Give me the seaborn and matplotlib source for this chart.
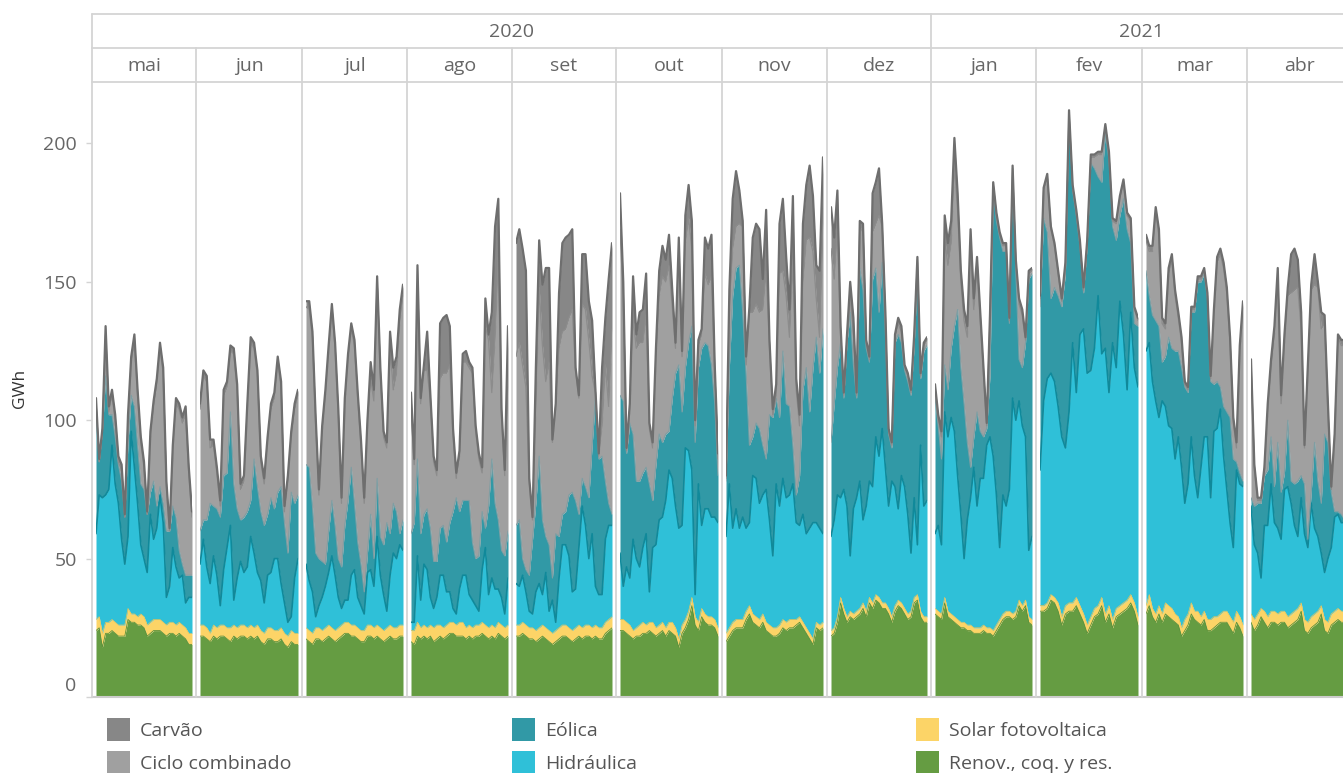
import numpy as np
import matplotlib
matplotlib.use("Agg")
import matplotlib.pyplot as plt
import seaborn as sns
from matplotlib.patches import Rectangle
from matplotlib.lines import Line2D
from matplotlib.transforms import ScaledTranslation

# ---------------- data (GWh per day) ----------------
years = ["2020", "2021"]
months = ["mai", "jun", "jul", "ago", "set", "out", "nov", "dez",
          "jan", "fev", "mar", "abr"]
month_days = [31, 30, 31, 31, 30, 31, 30, 31, 31, 28, 31, 30]
y_ticks = [0, 50, 100, 150, 200]
legend_labels = ["Carvão", "Ciclo combinado", "Eólica", "Hidráulica",
                 "Solar fotovoltaica", "Renov., coq. y res."]

renov = [
    [24,25,18,23,23,24,23,22,22,22,28,27,27,26,26,25,22,23,24,24,24,23,22,23,23,22,23,22,21,19,19],
    [22,22,21,20,22,21,22,22,21,20,22,21,22,22,21,22,21,22,20,19,21,21,20,20,21,19,18,20,19,19],
    [21,20,19,21,21,20,21,22,21,20,21,22,23,23,22,22,21,20,20,22,22,21,22,21,20,21,22,21,21,22,22],
    [20,19,22,21,22,21,22,20,21,22,21,22,23,23,22,22,22,21,22,21,22,22,23,22,21,22,21,23,22,21,22],
    [22,22,23,22,21,21,20,21,22,21,20,19,20,21,22,22,21,20,21,22,21,22,22,21,22,21,21,23,24,25],
    [24,24,23,22,21,22,22,23,23,24,23,22,23,24,22,24,23,22,18,23,25,28,33,26,24,29,27,26,26,25,22],
    [20,22,24,25,25,25,28,30,27,26,25,27,24,23,22,22,23,25,24,25,25,26,27,25,23,21,19,25,24,25],
    [22,23,27,34,30,27,29,28,29,30,32,29,34,32,35,34,32,32,30,27,31,33,32,30,28,29,34,35,29,27,27],
    [30,29,28,34,29,28,27,26,25,25,24,24,23,23,23,24,23,23,22,24,26,28,29,29,28,29,33,31,33,27,26],
    [31,31,32,35,34,31,26,30,31,31,33,30,27,23,26,29,30,33,27,30,25,29,30,31,32,34,31,26],
    [30,33,29,27,30,27,30,29,28,27,26,22,24,26,30,28,27,26,28,24,24,25,26,27,27,27,25,23,27,25,22],
    [27,24,26,29,27,25,27,27,26,27,27,25,26,27,28,31,24,23,25,26,27,30,24,23,26,27,28,27,27,27],
]
solar = [
    [4,4,5,4,4,4,4,4,4,4,4,3,3,3,4,4,4,4,4,4,4,4,4,4,4,4,4,4,4,4,4],
    [4,4,4,3,4,4,4,4,4,5,4,4,4,4,4,4,4,4,4,4,4,4,4,4,4,4,4,4,4,4],
    [4,4,4,4,4,4,4,4,4,4,4,4,4,4,4,4,4,4,4,4,4,4,4,4,4,4,4,4,4,4,4],
    [4,5,5,4,4,4,4,5,5,4,4,4,4,4,4,5,5,4,4,4,4,4,4,4,4,4,4,4,4,4,4],
    [4,4,4,4,4,4,4,4,4,4,4,4,4,4,4,4,4,4,4,4,4,4,4,4,4,4,4,4,4,4],
    [4,4,4,4,3,3,4,4,3,3,4,3,3,3,3,3,4,3,3,3,3,3,3,3,3,3,3,3,3,3,3],
    [3,3,3,3,3,3,3,3,3,3,3,3,3,3,3,3,3,3,3,3,3,2,2,2,2,2,2,2,2,2],
    [2,2,2,2,2,2,2,2,2,2,2,2,2,2,2,2,2,2,2,2,2,2,2,2,2,2,2,2,2,2,2],
    [2,2,2,2,2,2,2,2,2,2,2,2,2,2,2,2,2,2,2,2,2,2,2,2,2,2,2,2,2,2,2],
    [2,2,2,2,2,3,3,3,3,3,3,3,3,3,3,3,3,3,3,3,3,3,3,3,3,3,3,3],
    [3,4,3,3,3,3,4,4,4,3,3,3,4,4,4,3,4,3,3,4,4,4,3,3,4,4,4,4,4,4,4],
    [3,4,4,3,4,4,4,4,4,4,4,4,4,4,4,3,4,4,4,4,4,3,4,4,4,4,4,4,4,4],
]
hydro = [
    [31,44,49,46,48,63,50,44,31,22,26,66,53,41,25,21,19,39,29,33,45,36,10,13,27,21,16,18,9,13,13],
    [22,31,22,18,25,19,7,20,29,37,9,18,23,19,22,32,27,19,18,11,19,20,26,26,16,11,5,5,20,27],
    [23,18,15,4,8,12,15,19,26,20,11,6,8,8,18,20,11,9,6,19,20,15,32,19,13,6,18,27,25,29,27],
    [3,3,24,10,22,21,10,7,10,18,19,12,11,5,4,12,17,19,11,10,7,5,19,28,12,17,14,12,10,5,17],
    [15,14,17,12,6,5,14,16,11,20,7,12,3,18,29,29,26,14,14,28,44,36,24,34,14,12,12,30,34,33],
    [24,12,20,17,33,25,21,27,33,11,27,30,38,38,46,55,52,44,40,36,62,58,46,8,50,30,38,39,36,37,38],
    [35,52,34,40,33,37,30,30,50,50,42,43,48,38,26,52,43,51,45,45,49,35,33,39,34,38,42,36,35,32],
    [34,39,44,36,43,40,20,38,41,46,30,38,42,42,57,51,63,49,37,49,43,33,46,44,36,21,36,18,60,40,42],
    [27,31,25,67,63,71,67,52,39,23,38,46,58,44,54,53,66,69,63,47,26,43,38,44,78,69,72,65,59,24,30],
    [49,74,81,80,78,71,65,57,69,94,74,98,103,91,89,94,112,88,96,77,100,87,110,97,76,102,85,83],
    [92,91,82,77,68,77,71,65,65,56,65,58,42,47,60,49,41,54,63,66,44,67,68,74,56,44,34,27,51,48,50],
    [39,27,22,11,31,33,46,32,31,26,44,47,40,31,26,38,31,27,41,31,27,19,17,23,24,34,34,32,32,32],
]
wind = [
    [45,12,24,43,27,11,17,14,21,17,34,13,22,21,22,25,21,8,21,8,3,7,24,20,15,18,10,4,10,8,8],
    [12,7,17,29,18,24,32,34,27,41,42,25,15,20,20,13,34,31,25,28,22,27,18,24,35,29,25,45,27,23],
    [36,41,31,23,17,13,8,15,20,18,14,15,27,36,39,24,20,15,8,7,20,10,21,14,18,32,15,18,17,4,11],
    [32,36,35,24,18,22,25,17,13,17,18,18,25,35,42,28,27,27,34,21,17,20,21,7,32,43,31,25,17,21,17],
    [21,24,6,8,13,27,32,46,27,13,24,8,32,15,11,12,22,36,32,12,10,14,22,32,68,49,50,21,8,4],
    [57,67,41,56,38,28,31,27,24,39,17,29,31,27,24,14,29,48,59,41,29,39,52,55,42,64,60,59,55,41,17],
    [20,42,84,87,95,74,56,28,14,20,27,18,11,38,50,31,32,46,34,32,14,10,18,45,60,42,56,67,56,74],
    [34,42,46,56,33,59,88,52,36,77,83,57,43,75,61,52,60,48,26,12,52,63,48,42,48,57,55,98,24,56,56],
    [49,36,31,17,17,25,38,60,53,56,28,11,11,34,17,15,6,22,96,99,112,88,92,60,82,54,15,21,34,98,95],
    [59,66,53,27,34,40,47,63,107,55,64,32,13,46,75,65,43,62,78,84,42,46,31,49,58,25,16,22],
    [29,17,24,29,33,14,18,32,29,39,31,36,42,33,45,59,78,67,59,50,42,17,17,8,18,28,38,32,3,4,2],
    [3,14,18,27,18,20,17,13,31,17,6,24,8,15,20,8,18,3,4,31,20,18,50,42,20,2,1,3,1,1],
]
ciclo = [
    [2,0,0,15,1,7,6,1,4,0,8,12,23,18,15,8,0,20,27,44,50,47,16,0,20,41,51,51,58,37,21],
    [44,52,50,20,22,13,4,29,31,22,47,43,11,13,37,57,40,40,18,15,26,32,40,47,36,4,26,20,34,36],
    [57,57,61,47,23,47,61,65,69,64,52,23,44,51,50,57,52,43,32,46,49,57,71,59,39,27,68,41,50,77,81],
    [45,21,62,47,52,50,46,36,31,54,55,61,57,28,7,20,50,50,48,61,46,35,14,73,60,24,60,95,49,29,52],
    [61,64,70,66,34,7,35,61,63,56,66,49,46,68,66,66,64,66,47,42,63,64,57,25,2,1,11,42,35,67],
    [60,38,1,5,42,48,50,47,55,20,19,38,50,60,55,60,33,9,40,20,45,45,28,6,8,5,25,22,32,12,6],
    [1,20,17,15,15,31,3,48,45,43,42,49,68,25,1,1,52,29,39,25,67,38,18,39,46,63,42,14,13,38],
    [70,45,50,3,1,1,6,11,1,15,21,2,1,17,16,35,13,6,1,1,2,4,4,1,2,1,3,5,1,2,2],
    [3,2,8,46,45,38,58,36,31,30,38,80,46,52,40,23,1,20,2,2,1,2,2,1,1,3,20,19,1,2,1],
    [3,10,20,25,15,8,2,3,1,1,1,1,1,1,2,4,8,10,2,2,2,6,6,6,5,8,5,2],
    [11,16,23,39,33,14,10,23,32,20,12,9,1,1,1,1,1,1,1,1,1,25,43,48,50,43,27,13,5,44,63],
    [49,14,1,1,2,21,25,55,60,32,47,45,68,70,70,53,13,60,73,57,70,63,40,11,1,27,63,61,63,63],
]
carvao = [
    [2,1,1,3,2,2,2,2,2,1,2,2,3,2,2,2,1,2,2,2,2,2,2,1,2,2,2,2,3,2,2],
    [2,2,2,3,2,2,2,2,2,2,2,2,2,2,2,2,2,2,2,2,2,2,2,2,2,2,2,2,2,2],
    [2,3,2,2,2,2,2,2,2,2,2,2,2,2,2,2,2,2,2,2,6,4,2,2,2,2,5,8,6,4,4],
    [6,2,8,2,2,14,2,2,2,20,20,21,14,2,2,2,3,4,2,2,2,2,2,10,2,29,40,21,2,2,22],
    [41,41,42,42,1,1,14,17,22,41,34,1,1,20,32,33,30,29,1,1,18,20,14,20,1,1,21,17,46,31],
    [13,5,1,2,15,5,11,12,15,2,2,4,9,11,8,11,6,2,6,2,10,12,10,2,2,2,13,13,15,2,2],
    [1,8,18,20,12,2,3,2,27,29,30,11,22,2,2,4,18,26,14,10,23,4,4,21,20,26,20,12,24,24],
    [15,15,14,3,1,2,5,6,1,2,3,1,1,14,15,17,1,2,1,1,1,2,2,1,1,1,1,1,1,1,1],
    [2,2,2,8,8,8,10,6,4,4,4,6,4,4,3,2,1,2,1,1,1,1,1,1,1,1,2,2,1,1,1],
    [1,1,1,1,1,1,1,1,1,1,1,1,1,1,1,1,1,1,1,1,1,1,1,1,1,1,1,1],
    [2,2,2,2,2,2,2,2,2,2,2,2,1,1,1,1,1,1,1,1,1,2,2,2,2,2,2,2,2,2,2],
    [1,1,1,1,1,3,3,3,3,3,3,3,14,15,10,6,1,3,2,11,2,6,3,3,1,1,1,2,2,2],
]

# ---------------- styling ----------------
W, H = 1343, 773
sns.set_theme(style="white")
plt.rcParams['font.family'] = ['Open Sans', 'DejaVu Sans']

stack = [renov, solar, hydro, wind, ciclo, carvao]          # bottom -> top
fill_colors = ['#659C42', '#FCD467', '#2FC0D8', '#3199A6', '#A0A0A0', '#878787']
edge_styles = [('#5C9139', 0.6), ('#EEC552', 0.5), ('#10899A', 1.2),
               ('#7E9EA3', 0.8), ('#8C8C8C', 1.0), ('#6E6E6E', 1.6)]
legend_colors = {'Carvão': '#878787', 'Ciclo combinado': '#A0A0A0',
                 'Eólica': '#3199A6', 'Hidráulica': '#2FC0D8',
                 'Solar fotovoltaica': '#FCD467', 'Renov., coq. y res.': '#659C42'}

grid_c = '#D4D4D4'
text_c = '#666666'
bounds = [92, 196, 302, 407, 512, 616, 722, 827, 931, 1036, 1142, 1247, 1352]
TOP, BOT = 82, 697
YMAX = 222.2


def fx(p):
    return p / W


def fy(p):
    return 1 - p / H


fig = plt.figure(figsize=(W / 100, H / 100), dpi=100)
fig.patch.set_facecolor('white')

for i, n in enumerate(month_days):
    l, r = bounds[i] + 4, bounds[i + 1] - 4
    ax = fig.add_axes([fx(l), fy(BOT), (r - l) / W, (BOT - TOP) / H])
    ax.set_xlim(1, n)
    ax.set_ylim(0, YMAX)
    ax.axis('off')
    x = np.arange(1, n + 1)
    base = np.zeros(n)
    tops = []
    for s, col in zip(stack, fill_colors):
        top = base + np.array(s[i], dtype=float)
        ax.fill_between(x, base, top, color=col, linewidth=0, zorder=1)
        tops.append(top)
        base = top
    for top, (lc, lw) in zip(tops, edge_styles):
        sns.lineplot(x=x, y=top, ax=ax, color=lc, linewidth=lw, zorder=3,
                     legend=False)


def hline(y, x0, x1, lw=1.3, c=grid_c):
    fig.add_artist(Line2D([fx(x0), fx(x1)], [fy(y), fy(y)], color=c, lw=lw,
                          transform=fig.transFigure))


def vline(x, y0, y1, lw=1.3, c=grid_c):
    fig.add_artist(Line2D([fx(x), fx(x)], [fy(y0), fy(y1)], color=c, lw=lw,
                          transform=fig.transFigure))


# header grid
hline(14, 92, W)
hline(48, 92, W)
hline(82, 92, W)
hline(697, 92, W, lw=1.5, c='#CCCCCC')
for b in bounds[:-1]:
    if b in (92, 931):
        vline(b, 14, 697)
    else:
        vline(b, 48, 697)

# header texts
fig.text(fx((92 + 931) / 2), fy(32), years[0], ha='center', va='center',
         fontsize=14, color=text_c)
fig.text(fx((931 + 1352) / 2), fy(32), years[1], ha='center', va='center',
         fontsize=14, color=text_c)
for i, m in enumerate(months):
    fig.text(fx((bounds[i] + bounds[i + 1]) / 2), fy(66), m, ha='center',
             va='center', fontsize=14, color=text_c)

# y axis
ax_y = fig.add_axes([fx(92), fy(BOT), 0.0001, (BOT - TOP) / H])
ax_y.set_ylim(0, YMAX)
for sp in ax_y.spines.values():
    sp.set_visible(False)
ax_y.set_xticks([])
ax_y.set_yticks(y_ticks)
ax_y.set_yticklabels([str(t) for t in y_ticks])
ax_y.tick_params(axis='y', direction='out', length=4, width=1, color=grid_c,
                 labelsize=14, labelcolor=text_c, pad=7, left=True)
for lbl in ax_y.get_yticklabels():
    if lbl.get_text() == '0':
        lbl.set_transform(lbl.get_transform() +
                          ScaledTranslation(0, 13 / 100, fig.dpi_scale_trans))
fig.text(fx(20), fy(388), 'GWh', rotation=90, ha='center', va='center',
         fontsize=12.5, color='#333333', fontweight='medium')

# legend (column-major, 3 columns x 2 rows)
col_x = [107, 512, 916]
row_y = [729, 762]
for k, lab in enumerate(legend_labels):
    c, rr = divmod(k, 2)
    x0 = col_x[c]
    yc = row_y[rr]
    fig.add_artist(Rectangle((fx(x0), fy(yc + 12)), 23 / W, 23 / H,
                             transform=fig.transFigure,
                             facecolor=legend_colors[lab], edgecolor='none'))
    fig.text(fx(x0 + 33), fy(yc + 2), lab, ha='left', va='center',
             fontsize=14, color='#555555')

fig.savefig('out.png', dpi=100)
